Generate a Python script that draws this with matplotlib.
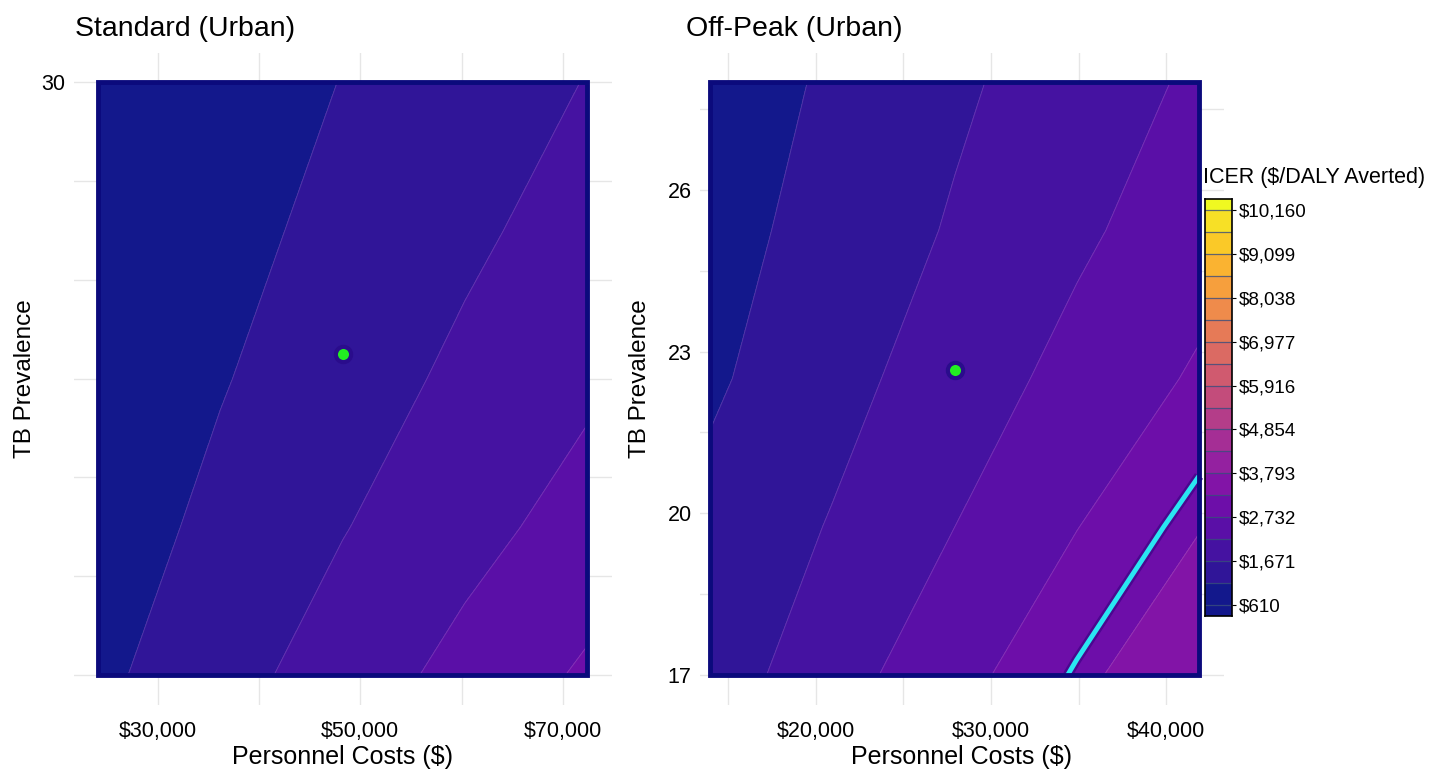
import numpy as np
import matplotlib.pyplot as plt
from matplotlib.colors import Normalize, to_rgb
from matplotlib.patches import Rectangle
from matplotlib.ticker import FuncFormatter

plt.rcParams['font.family'] = ['Liberation Sans', 'DejaVu Sans']

# ICER surface (rows = TB prevalence, columns = personnel costs)
std_costs = [24120, 36180, 48240, 60300, 72360]
std_prev = [18, 21, 24, 27, 30]
std_icer = [
    [1031, 1475, 1920, 2365, 2810],
    [883, 1265, 1646, 2027, 2408],
    [773, 1107, 1440, 1774, 2107],
    [687, 984, 1280, 1577, 1873],
    [618, 885, 1152, 1419, 1686],
]
std_base = (48290, 24.5)

offpeak_costs = [13957, 20936, 27914, 34893, 41871]
offpeak_prev = [17, 19.75, 22.5, 25.25, 28]
offpeak_icer = [
    [1404, 1980, 2556, 3133, 3709],
    [1289, 1704, 2200, 2720, 3240],
    [1061, 1496, 1931, 2367, 2802],
    [945, 1333, 1721, 2109, 2497],
    [870, 1210, 1584, 1934, 2284],
]
offpeak_base = (27940, 22.66)

# cost-effectiveness threshold line
wtp_threshold = 3090

# colorbar labels, contours also at the half steps
cbar_ticks = [610, 1671, 2732, 3793, 4854, 5916, 6977, 8038, 9099, 10160]
levels = [cbar_ticks[0]]
for a, b in zip(cbar_ticks[:-1], cbar_ticks[1:]):
    levels += [(a + b) / 2, b]
half_step = levels[1] - levels[0]

cmap = plt.get_cmap('plasma')
norm = Normalize(cbar_ticks[0], cbar_ticks[-1])
haze = np.array(to_rgb('#4090b4'))


def band_color(v):
    # plasma, the dark end slightly washed towards blue-grey
    w = 0.12 * (1 - v)
    return tuple((1 - w) * np.array(cmap(v)[:3]) + w * haze)


band_colors = [band_color(norm(l)) for l in levels[:-1]]

money = FuncFormatter(lambda v, p: '${:,.0f}'.format(v))

W, H = 1429, 772
fig = plt.figure(figsize=(W / 100, H / 100), dpi=100)


def panel(px_left, pad_left, title, title_px, costs, prev, icer, base,
          xmaj, xmin_, ymaj, ymin_, show_wtp, ylab_px):
    # data area is 489 x 593 px, axes padded around it
    pad_right, pad_y = 24.5, 29.5
    width = 489 + pad_left + pad_right
    ax = fig.add_axes([px_left / W, (772 - 675 - pad_y) / H,
                       width / W, (593 + 2 * pad_y) / H])
    x0, x1 = costs[0], costs[-1]
    y0, y1 = prev[0], prev[-1]
    dx, dy = x1 - x0, y1 - y0
    ax.set_xlim(x0 - pad_left / 489 * dx, x1 + pad_right / 489 * dx)
    ax.set_ylim(y0 - pad_y / 593 * dy, y1 + pad_y / 593 * dy)

    ax.contourf(costs, prev, icer, levels=levels, colors=band_colors, zorder=2)
    ax.contour(costs, prev, icer, levels=levels, colors='white',
               linewidths=0.7, alpha=0.15, zorder=2)
    if show_wtp:
        ax.contour(costs, prev, icer, levels=[wtp_threshold], colors='#4a078f',
                   linewidths=7, zorder=3)
        ax.contour(costs, prev, icer, levels=[wtp_threshold], colors='#2ae6f2',
                   linewidths=3.5, zorder=3)

    # dark frame around the filled area
    ax.add_patch(Rectangle((x0, y0), dx, dy, fill=False, ec='#0b0a7c',
                           lw=3.5, zorder=4))
    ax.plot(base[0], base[1], 'o', ms=11, color='#22ee22', mec='#2a0c8c',
            mew=3, zorder=5)

    ax.set_xticks(xmaj)
    ax.set_xticks(xmin_, minor=True)
    ax.set_yticks(ymaj)
    ax.set_yticks(ymin_, minor=True)
    ax.xaxis.set_major_formatter(money)
    ax.grid(which='both', color='#e6e6e6', lw=1, zorder=0)
    ax.set_axisbelow(True)
    ax.tick_params(which='both', length=0, labelsize=15.5)
    ax.tick_params(axis='x', pad=12)
    ax.tick_params(axis='y', pad=6)
    for s in ax.spines.values():
        s.set_visible(False)

    ax.set_xlabel('Personnel Costs ($)', fontsize=18, labelpad=2)
    ax.set_ylabel('TB Prevalence', fontsize=17.5)
    ax.yaxis.set_label_coords((ylab_px - px_left) / width, 0.5)
    ax.set_title(title, loc='left', fontsize=20.5, pad=12,
                 x=(title_px - px_left) / width)
    return ax


panel(73.5, 24.5, 'Standard (Urban)', 75,
      std_costs, std_prev, std_icer, std_base,
      [30000, 50000, 70000], [40000, 60000],
      [30], [18, 20, 22, 24, 26, 28], False, 36)

panel(700, 10, 'Off-Peak (Urban)', 686,
      offpeak_costs, offpeak_prev, offpeak_icer, offpeak_base,
      [20000, 30000, 40000], [15000, 25000, 35000],
      [17, 20, 23, 26], [18.5, 21.5, 24.5, 27.5], True, 651)

# colorbar drawn as blocks between contour levels
cax = fig.add_axes([1205 / W, 156 / H, 27 / W, 417 / H])
edges = [levels[0] - half_step / 2] + levels + [levels[-1] + half_step / 2]
block_colors = [band_color(0.0)] + band_colors + [band_color(1.0)]
for lo, hi, c in zip(edges[:-1], edges[1:], block_colors):
    cax.axhspan(lo, hi, color=c, lw=0)
for l in levels:
    cax.axhline(l, color='#3a4f7c', lw=0.9, alpha=0.8)
cax.set_ylim(edges[0], edges[-1])
cax.set_xlim(0, 1)
cax.set_xticks([])
cax.yaxis.tick_right()
cax.set_yticks(cbar_ticks)
cax.yaxis.set_major_formatter(money)
cax.tick_params(axis='y', length=3, width=0.8, pad=2, labelsize=13.5)
for s in cax.spines.values():
    s.set_linewidth(1.2)
fig.text(1203 / W, 1 - 177 / H, 'ICER ($/DALY Averted)', fontsize=15.5,
         ha='left', va='center')

fig.savefig('out.png', dpi=100)
